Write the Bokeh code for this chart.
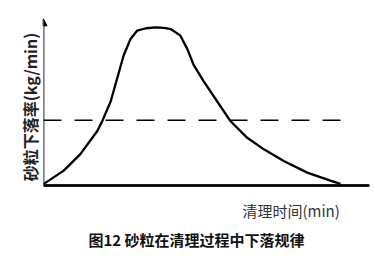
from bokeh.plotting import figure
from bokeh.layouts import column
from bokeh.models import Range1d, FixedTicker, Arrow, NormalHead, Label, BoxAnnotation
from bokeh.embed import file_html
from bokeh.resources import INLINE

# Curve: sand falling rate vs. cleaning time (arbitrary units)
time_min = [0.1, 6.2, 11.3, 16.5, 18.0, 20.6, 22.6, 24.6, 26.7, 28.7, 31.5,
            34.4, 37.0, 39.0, 42.0, 44.1, 46.1, 49.2, 53.3, 57.4, 62.5, 67.6,
            73.7, 80.9, 88.0, 91.1]
fall_rate = [1.0, 9.0, 19.0, 33.0, 38.9, 50.9, 64.9, 78.9, 88.8, 93.8, 95.3,
             95.8, 95.5, 94.8, 90.8, 82.8, 72.9, 62.9, 50.9, 38.9, 28.9, 21.9,
             14.8, 7.8, 3.0, 1.0]
# Dashed reference level
level_x = [0.0, 92.0]
level_y = [39.5, 39.5]
# Time axis (baseline) extent
base_x = [0.0, 100.0]
base_y = [0.0, 0.0]

y_label = "砂粒下落率(kg/min)"
x_label = "清理时间(min)"
caption = "图12  砂粒在清理过程中下落规律"

FONT = "Noto Sans CJK SC"

p = figure(width=375, height=196, output_backend="svg", toolbar_location=None,
           x_range=Range1d(0, 100), y_range=Range1d(-6.06, 101.2),
           min_border_left=43, min_border_right=6, min_border_top=18,
           min_border_bottom=1)
p.outline_line_color = None
p.xgrid.visible = False
p.ygrid.visible = False
p.background_fill_color = "white"
p.border_fill_color = "white"
p.xaxis.visible = False

ax = p.yaxis
ax.ticker = FixedTicker(ticks=[])
ax.axis_line_color = None
ax.major_tick_line_color = None
ax.minor_tick_line_color = None
ax.major_label_text_font_size = "0px"
ax.major_label_standoff = 0
ax.major_tick_out = 0
ax.minor_tick_out = 0
ax.axis_label = y_label
ax.axis_label_text_font = FONT
ax.axis_label_text_font_size = "16px"
ax.axis_label_text_font_style = "bold"
ax.axis_label_text_color = "#222222"
ax.axis_label_standoff = 2

# time axis: a thin filled band on the zero level (robust in SVG)
p.add_layout(BoxAnnotation(left=base_x[0], right=base_x[1],
                           bottom=base_y[0] - 0.55, top=base_y[1] + 0.55,
                           fill_color="black", fill_alpha=1.0, line_color=None,
                           level="overlay"))
p.quad(left=[base_x[0]], right=[base_x[1]], bottom=[base_y[0] - 0.55],
       top=[base_y[1] + 0.55], fill_color="black", line_color=None)
p.line(base_x, base_y, line_color="black", line_width=1.8)

# rate axis with arrow head
p.add_layout(Arrow(end=NormalHead(size=7, fill_color="black", line_color="black"),
                   x_start=0, y_start=0, x_end=0, y_end=101,
                   line_color="black", line_width=1.7))

p.line(time_min, fall_rate, line_color="black", line_width=2.3)
p.line(level_x, level_y, line_color="black", line_width=1.6, line_dash="18 13")

# Lower strip carrying the x-axis title and the figure caption
q = figure(width=375, height=63, output_backend="svg", toolbar_location=None,
           x_range=Range1d(0, 1), y_range=Range1d(0, 1),
           min_border_left=0, min_border_right=0, min_border_top=0,
           min_border_bottom=0)
q.outline_line_color = None
q.axis.visible = False
q.grid.visible = False
q.background_fill_color = None
q.border_fill_color = None

q.add_layout(Label(x=199, x_units="screen", y=49, y_units="screen",
                   text=x_label, text_font=FONT, text_font_size="15px",
                   text_color="#333333", text_baseline="middle", text_align="left"))
q.add_layout(Label(x=45, x_units="screen", y=20, y_units="screen",
                   text=caption, text_font=FONT, text_font_size="15px",
                   text_font_style="bold", text_color="#111111",
                   text_baseline="middle", text_align="left"))

layout = column(p, q, spacing=0)
open("out.html", "w").write(file_html(layout, INLINE))
